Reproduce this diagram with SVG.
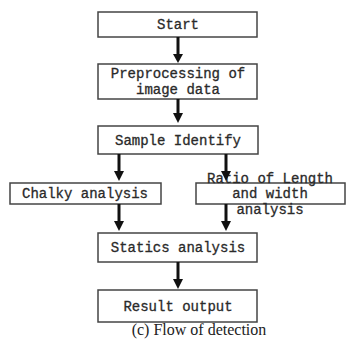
<svg xmlns="http://www.w3.org/2000/svg" width="348" height="339" viewBox="0 0 348 339">
<style>
.box{fill:#fff;stroke:#444;stroke-width:1.5}
.t{font-family:"Liberation Mono","DejaVu Sans Mono",monospace;font-size:14px;fill:#2a2a2a;stroke:#2a2a2a;stroke-width:0.3;text-anchor:middle}
.cap{font-family:"Liberation Serif","Times New Roman",serif;font-size:16px;fill:#222;text-anchor:middle}
.ln{stroke:#111;stroke-width:3;fill:none}
.hd{fill:#111}
</style>
<rect width="348" height="339" fill="#fff"/>
<g id="start"><rect class="box" x="98" y="12" width="159" height="25"/><text class="t" x="178" y="29">Start</text></g>
<g id="preprocessing"><rect class="box" x="98" y="64" width="159" height="35"/><text class="t" x="178" y="78">Preprocessing of</text><text class="t" x="178" y="94">image data</text></g>
<g id="sample"><rect class="box" x="98" y="126" width="160" height="28"/><text class="t" x="178" y="145">Sample Identify</text></g>
<g id="chalky"><rect class="box" x="10" y="183" width="151" height="21"/><text class="t" x="85" y="198">Chalky analysis</text></g>
<g id="ratio"><rect class="box" x="196" y="183" width="149" height="21"/><text class="t" x="270" y="183">Ratio of Length</text><text class="t" x="270" y="198">and width</text><text class="t" x="270" y="214">analysis</text></g>
<g id="statics"><rect class="box" x="98" y="233" width="159" height="29"/><text class="t" x="178" y="252">Statics analysis</text></g>
<g id="result"><rect class="box" x="98" y="290" width="159" height="32"/><text class="t" x="178" y="311">Result output</text></g>
<g id="connectors">
<path d="M178,37 L178,55" class="ln"/><path d="M173,54 L183,54 L178,63 Z" class="hd"/>
<path d="M178,99 L178,114" class="ln"/><path d="M173,113 L183,113 L178,123 Z" class="hd"/>
<path d="M119,154 L119,172" class="ln"/><path d="M114,171 L124,171 L119,181 Z" class="hd"/>
<path d="M226,154 L226,172" class="ln"/><path d="M221,171 L231,171 L226,181 Z" class="hd"/>
<path d="M119,204 L119,222" class="ln"/><path d="M114,221 L124,221 L119,231 Z" class="hd"/>
<path d="M226,204 L226,222" class="ln"/><path d="M221,221 L231,221 L226,231 Z" class="hd"/>
<path d="M178,262 L178,280" class="ln"/><path d="M173,279 L183,279 L178,289 Z" class="hd"/>
</g>
<text class="cap" x="199" y="334.5">(c) Flow of detection</text>
</svg>
